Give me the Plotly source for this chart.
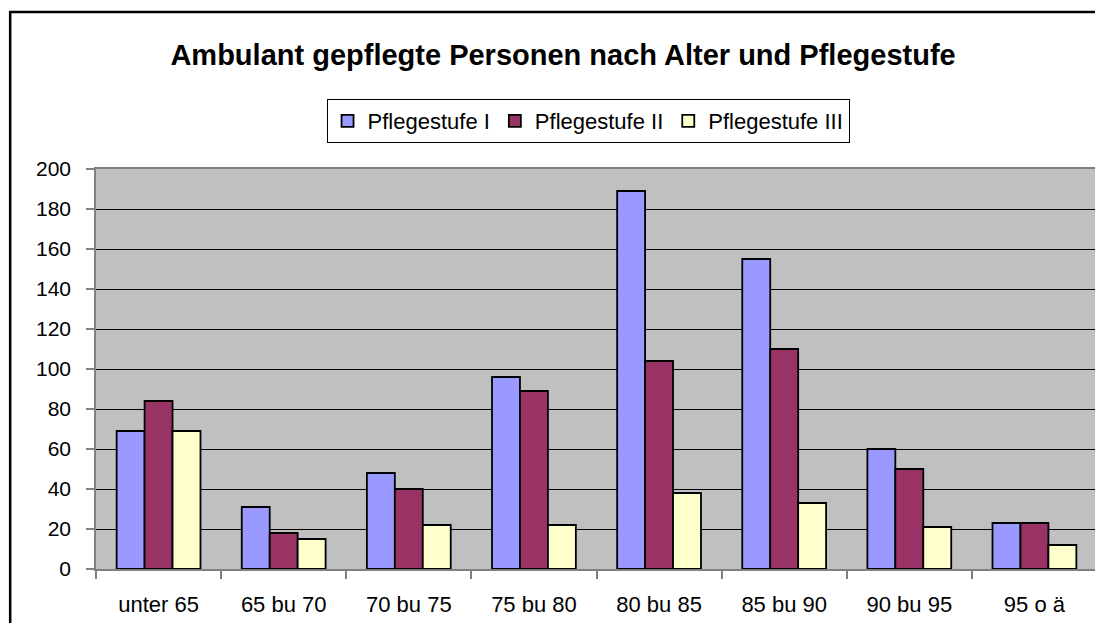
import plotly.graph_objects as go

categories = ["unter 65", "65 bu 70", "70 bu 75", "75 bu 80", "80 bu 85", "85 bu 90", "90 bu 95", "95 o ä"]
stufe_1 = [69, 31, 48, 96, 189, 155, 60, 23]
stufe_2 = [84, 18, 40, 89, 104, 110, 50, 23]
stufe_3 = [69, 15, 22, 22, 38, 33, 21, 12]
series_names = ["Pflegestufe I", "Pflegestufe II", "Pflegestufe III"]
colors = ["#9999FF", "#993366", "#FFFFCC"]

OFF = 8  # page body margin
W, H = 1103, 623
L, R, T, B = 96 - OFF, 12, 169 - OFF, 62
pw, ph = W - L - R, H - T - B

def px_x(x):
    return (x - OFF - L) / pw

def px_y(y):
    return 1 - (y - OFF - T) / ph

fig = go.Figure()
for name, vals, col in zip(series_names, [stufe_1, stufe_2, stufe_3], colors):
    fig.add_trace(go.Bar(x=categories, y=vals, name=name,
                         marker=dict(color=col, line=dict(color="black", width=1.8))))

font = "Liberation Sans, Arial, sans-serif"
fig.update_layout(
    width=W, height=H,
    margin=dict(l=L, r=R, t=T, b=B),
    paper_bgcolor="white", plot_bgcolor="#C0C0C0",
    barmode="group", bargap=0.33, bargroupgap=0,
    font=dict(family=font, color="black", size=21),
    title=dict(text="<b>Ambulant gepflegte Personen nach Alter und Pflegestufe</b>",
               x=px_x(564), xref="paper", xanchor="center",
               y=1 - (55 - OFF) / H, yref="container", yanchor="middle",
               font=dict(family=font, size=29, color="black")),
    legend=dict(orientation="h", x=px_x(327), y=px_y(99), xanchor="left", yanchor="top",
                bordercolor="black", borderwidth=1, bgcolor="white",
                font=dict(family=font, size=22, color="black"),
                tracegroupgap=0, traceorder="normal"),
    showlegend=True,
)
fig.update_yaxes(range=[0, 200], dtick=20, showgrid=True, gridcolor="black", gridwidth=1,
                 zeroline=False, showline=True, linecolor="#808080", linewidth=1.5, mirror=True,
                 ticks="outside", ticklen=8, tickcolor="#808080", tickwidth=1.5,
                 ticklabelstandoff=11, tickfont=dict(size=21, family=font))
fig.update_xaxes(showline=True, linecolor="#808080", linewidth=1.5, mirror=True,
                 ticks="outside", ticklen=8, tickcolor="#808080", tickwidth=1.5,
                 tickson="boundaries", ticklabelstandoff=15, tickfont=dict(size=22, family=font))

fig.add_shape(type="rect", xref="paper", yref="paper",
              x0=px_x(10), x1=px_x(1130), y0=px_y(660), y1=px_y(12),
              line=dict(color="black", width=2.5), fillcolor="rgba(0,0,0,0)", layer="above")

fig.write_html("out.html")
